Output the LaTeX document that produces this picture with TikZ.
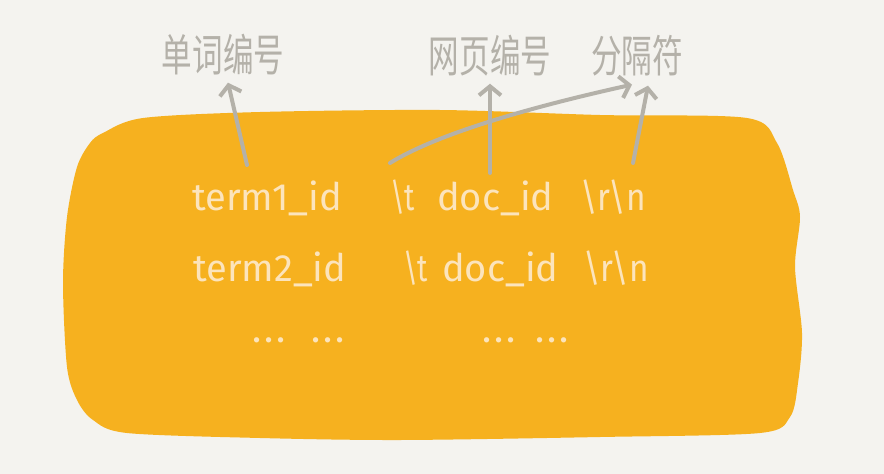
\documentclass[tikz,border=0pt]{standalone}
\usepackage{fontspec}
\setmainfont{Fira Sans}
\newfontfamily\cjk{Noto Sans CJK SC}
\usetikzlibrary{arrows.meta}
\definecolor{paper}{HTML}{F4F3EF}
\definecolor{blob}{HTML}{F6B11F}
\definecolor{ink}{HTML}{FCE4BC}
\definecolor{pencil}{HTML}{B4B1A9}
\newcommand{\gapdots}{.\hspace{3pt}.\hspace{3pt}.}
\newcommand{\slim}[2][0.75]{\scalebox{#1}[1]{#2}}

\begin{document}
\begin{tikzpicture}[x=1pt, y=-1pt,
  code/.style={text=ink, font=\fontsize{38}{38}\selectfont, anchor=base west, inner sep=0pt},
  tag/.style={text=pencil, font=\cjk\fontsize{34}{34}\selectfont, inner sep=0pt},
  arr/.style={pencil, line width=4pt, line cap=round, line join=round,
    -{Straight Barb[length=9pt, width=22pt, line width=4pt]}}]
  \fill[paper] (0,0) rectangle (884,474);
  \useasboundingbox (0,0) rectangle (884,474);
  % the orange card
  \fill[blob] plot[smooth cycle, tension=0.5] coordinates {
    (260,112) (440,110) (600,115) (747,118) (777,143) (793,190) (800,217)
    (795,267) (802,333) (798,383) (790,417) (760,433) (600,437) (400,440)
    (260,438) (127,433) (93,420) (77,400) (67,367) (63,283) (67,217)
    (77,167) (90,143) (103,133) (143,118)};
  % the lines of the file
  \node[code] (term1) at (192,210) {term1\_id};
  \node[code] (tab1)  at (390,210) {\slim{\textbackslash t}};
  \node[code] (doc1)  at (437,210) {doc\_id};
  \node[code] (end1)  at (580,210) {\slim[0.88]{\textbackslash r\textbackslash n}};
  \node[code] (term2) at (193,281) {term2\_id};
  \node[code] (tab2)  at (403,281) {\slim{\textbackslash t}};
  \node[code] (doc2)  at (442,281) {doc\_id};
  \node[code] (end2)  at (583,281) {\slim[0.88]{\textbackslash r\textbackslash n}};
  \node[code] (more1) at (252,342) {\gapdots\hspace{26pt}\gapdots};
  \node[code] (more2) at (482,342) {\gapdots\hspace{20pt}\gapdots};
  % what the fields are
  \node[tag] (lblword) at (223,55) {\scalebox{0.9}[1.3]{单词编号}};
  \node[tag] (lbldoc)  at (490,56) {\scalebox{0.9}[1.3]{网页编号}};
  \node[tag] (lblsep)  at (637,56) {\scalebox{0.9}[1.3]{分隔符}};
  \coordinate (wordfoot) at (247,165);
  \coordinate (docfoot)  at (490,173);
  \coordinate (tabfoot)  at (390,163);
  \coordinate (endfoot)  at (633,163);
  \draw[arr] (wordfoot) -- ([xshift=5pt, yshift=-7pt]lblword.south);
  \draw[arr] (docfoot) -- ([yshift=-7pt]lbldoc.south);
  \draw[arr] (endfoot) -- ([xshift=11pt, yshift=-9pt]lblsep.south);
  \draw[arr] (tabfoot) .. controls (440,132) and (540,105) .. ([xshift=-5pt, yshift=-8pt]lblsep.south);
\end{tikzpicture}
\end{document}
